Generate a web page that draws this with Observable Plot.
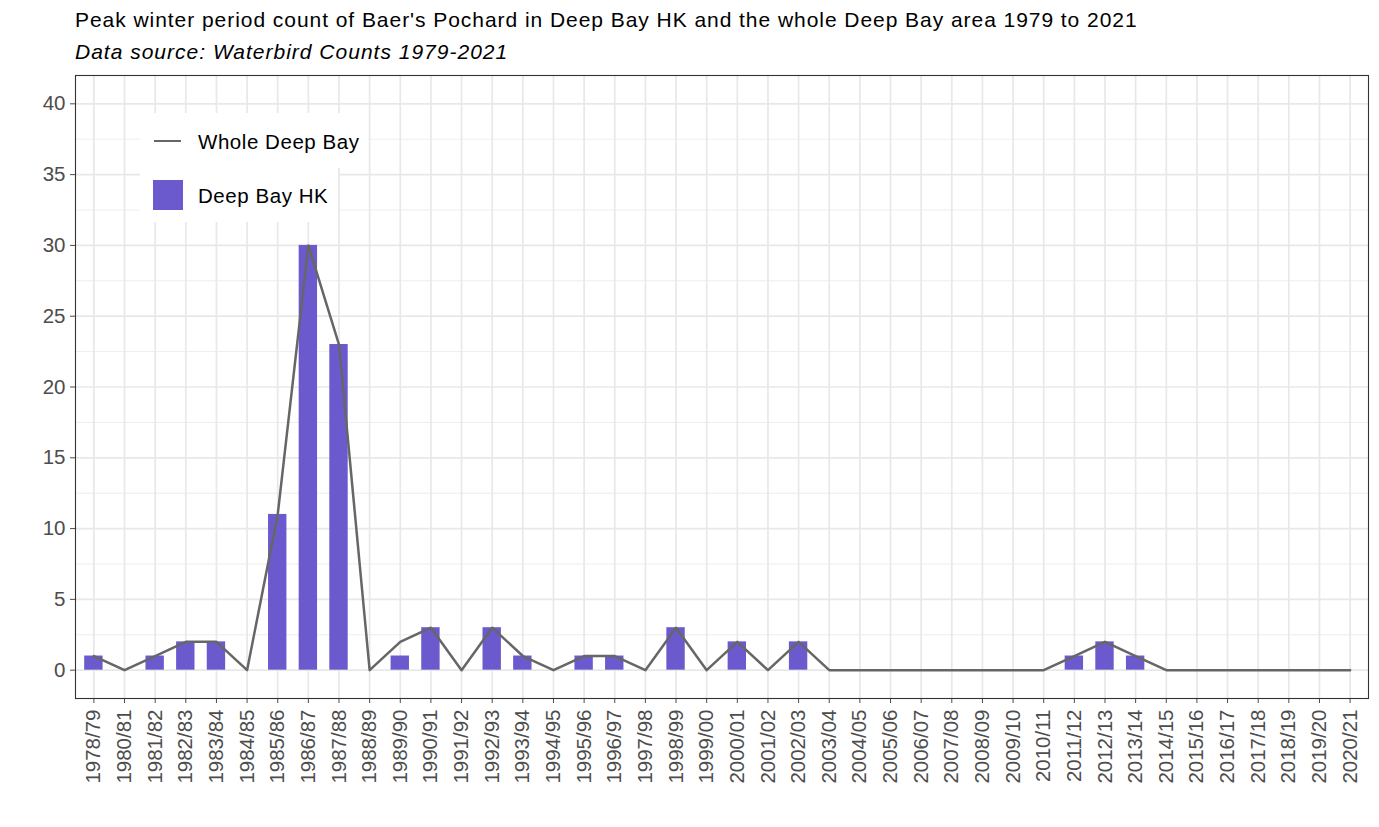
<!DOCTYPE html>
<html>
<head>
<meta charset="utf-8">
<script src="https://cdn.jsdelivr.net/npm/d3@7"></script>
<script src="https://cdn.jsdelivr.net/npm/@observablehq/plot@0.6"></script>
<style>
  html, body { margin: 0; padding: 0; background: #fff; }
  #wrap { position: relative; width: 1379px; height: 827px; font-family: "Liberation Sans", Arial, sans-serif; }
  #header { height: 70px; padding-left: 75px; box-sizing: border-box; }
  #title { font-size: 21px; letter-spacing: 0.95px; line-height: 24px; padding-top: 8px; color: #000; white-space: nowrap; }
  #subtitle { font-size: 21px; letter-spacing: 1.0px; line-height: 24px; margin-top: 8px; font-style: italic; color: #000; white-space: nowrap; }
  .lg { position: absolute; background: #fff; font-size: 20.5px; letter-spacing: 0.55px; color: #000; }
  .lg span { position: absolute; left: 58px; white-space: nowrap; line-height: 24px; }
</style>
</head>
<body>
<div id="wrap">
  <div id="header">
    <div id="title">Peak winter period count of Baer's Pochard in Deep Bay HK and the whole Deep Bay area 1979 to 2021</div>
    <div id="subtitle">Data source: Waterbird Counts 1979-2021</div>
  </div>
  <div id="chart"></div>
  <div class="lg" style="left:140px; top:113px; width:228px; height:55px;">
    <div style="position:absolute; left:14px; top:27px; width:27px; height:2.4px; background:#666666;"></div>
    <span style="top:17px;">Whole Deep Bay</span>
  </div>
  <div class="lg" style="left:140px; top:168px; width:198px; height:54px;">
    <div style="position:absolute; left:13px; top:12px; width:30px; height:30px; background:#6A5ACD;"></div>
    <span style="top:16px;">Deep Bay HK</span>
  </div>
</div>
<script>
const seasons = ["1978/79","1980/81","1981/82","1982/83","1983/84","1984/85","1985/86","1986/87","1987/88","1988/89",
  "1989/90","1990/91","1991/92","1992/93","1993/94","1994/95","1995/96","1996/97","1997/98","1998/99",
  "1999/00","2000/01","2001/02","2002/03","2003/04","2004/05","2005/06","2006/07","2007/08","2008/09",
  "2009/10","2010/11","2011/12","2012/13","2013/14","2014/15","2015/16","2016/17","2017/18","2018/19",
  "2019/20","2020/21"];
const deepBayHK = [1,0,1,2,2,0,11,30,23,0,
  1,3,0,3,1,0,1,1,0,3,
  0,2,0,2,0,0,0,0,0,0,
  0,0,1,2,1,0,0,0,0,0,
  0,0];
const wholeDeepBay = [1,0,1,2,2,0,11,30,23,0,
  2,3,0,3,1,0,1,1,0,3,
  0,2,0,2,0,0,0,0,0,0,
  0,0,1,2,1,0,0,0,0,0,
  0,0];
const yTicks = [0,5,10,15,20,25,30,35,40];
const yMinorTicks = [2.5,7.5,12.5,17.5,22.5,27.5,32.5,37.5];

const data = seasons.map((s, i) => ({season: s, hk: deepBayHK[i], whole: wholeDeepBay[i]}));

const chart = Plot.plot({
  width: 1379,
  height: 757,
  marginTop: 5,
  marginBottom: 129,
  marginLeft: 75,
  marginRight: 11,
  style: {fontFamily: "'Liberation Sans', Arial, sans-serif", fontSize: "20.5px", background: "white", color: "#4D4D4D", overflow: "visible"},
  x: {type: "band", domain: seasons, paddingInner: 0.4, paddingOuter: 0.3, align: 0.5, round: false,
      label: null, tickRotate: -90, tickSize: 5, tickPadding: 6},
  y: {domain: [-2, 42], ticks: yTicks, label: null, tickSize: 5, tickPadding: 5},
  marks: [
    Plot.ruleY(yMinorTicks, {stroke: "#EBEBEB", strokeWidth: 0.9}),
    Plot.ruleY(yTicks, {stroke: "#E8E8E8", strokeWidth: 1.7}),
    Plot.ruleX(seasons, {stroke: "#E8E8E8", strokeWidth: 1.7}),
    Plot.barY(data, {x: "season", y: "hk", fill: "#6A5ACD"}),
    Plot.line(data, {x: "season", y: "whole", stroke: "#666666", strokeWidth: 2.5}),
    Plot.frame({stroke: "#333333", strokeWidth: 1.1})
  ]
});
document.getElementById("chart").appendChild(chart);
</script>
</body>
</html>
